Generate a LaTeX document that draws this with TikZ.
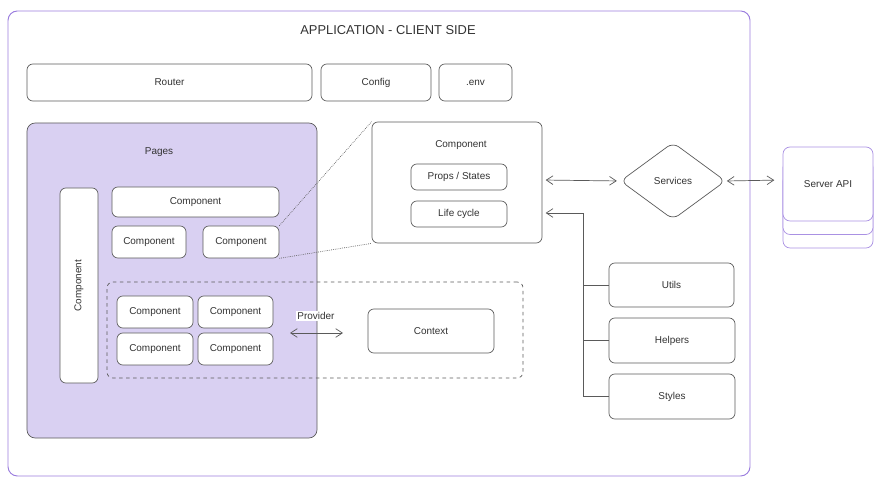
\documentclass[tikz,border=0pt]{standalone}
\usepackage{fontspec}
\setmainfont{Liberation Sans}
\usetikzlibrary{shapes.geometric,arrows.meta}

\definecolor{apppurple}{HTML}{9B7EDE}
\definecolor{pagefill}{HTML}{D9D0F2}
\definecolor{boxline}{HTML}{5A5A5A}

\tikzset{
  every node/.style={font=\fontsize{8.5}{10}\selectfont,text=black!80},
  box/.style 2 args={draw=boxline,line width=.6pt,rounded corners=5pt,fill=white,
    inner sep=0pt,minimum width=#1*0.3mm,minimum height=#2*0.3mm},
  pages/.style={box={290}{315},fill=pagefill,rounded corners=7pt},
  api/.style={box={90}{74},draw=apppurple!85,rounded corners=6pt},
  service/.style={diamond,draw=boxline,line width=.6pt,rounded corners=6pt,inner sep=0pt,
    minimum width=105*0.3mm,minimum height=77*0.3mm},
  link/.style={draw=boxline,line width=.6pt},
  >={Straight Barb[length=2mm,width=2.6mm]}
}

\begin{document}
\begin{tikzpicture}[x=0.03cm,y=-0.03cm]
      \useasboundingbox (0,0) rectangle (884,486);
      \draw [apppurple,line width=.8pt,rounded corners=8pt] (8,11) rectangle (750,476);
      \node (title) at (388,30) {\fontsize{11}{13}\selectfont APPLICATION - CLIENT SIDE};

      \node [box={285}{37}] (router) at (169.5,82.5) {Router};
      \node [box={110}{37}] (config) at (376,82.5) {Config};
      \node [box={73}{37}] (env) at (475.5,82.5) {.env};

      \node [pages] (pages) at (172,280.5) {};
      \node (pageslabel) at (159,152) {Pages};
      \node [box={195}{38},rotate=90] (compv) at (79,285.5) {Component};
      \node [box={167}{30}] (compw) at (195.5,202) {Component};
      \node [box={74}{32}] (comps1) at (149,242) {Component};
      \node [box={76}{32}] (comps2) at (241,242) {Component};

      \node [box={416}{96},fill=none,dashed] (provbox) at (315,330) {};
      \node [box={76}{32}] (g1) at (155,312) {Component};
      \node [box={75}{32}] (g2) at (235.5,312) {Component};
      \node [box={76}{32}] (g3) at (155,349) {Component};
      \node [box={75}{32}] (g4) at (235.5,349) {Component};
      \node [box={126}{44}] (context) at (431,331) {Context};
      \coordinate (provl) at (290,333);
      \coordinate (provr) at (343,333);
      \draw [link,<->] (provl) -- (provr);
      \node [fill=white,inner sep=1.5pt] (provider) at (316,316) {Provider};

      \node [box={170}{121}] (comp) at (457,182.5) {};
      \node (comptitle) at (461,145) {Component};
      \node [box={96}{26}] (props) at (459,177) {Props / States};
      \node [box={96}{26}] (life) at (459,214) {Life cycle};

      \draw [link,densely dotted] (comps2.north east) -- (comp.north west);
      \draw [link,densely dotted] (comps2.south east) -- (comp.south west);

      \node [service] (services) at (673,181) {Services};
      \node [api] (api3) at (828,211) {};
      \node [api] (api2) at (828,197.5) {};
      \node [api] (api) at (828,184) {Server API};

      \draw [link,<->,shorten <=1mm,shorten >=1mm] (comp.east |- 0,180) -- (services.west);
      \draw [link,<->,shorten <=.3mm,shorten >=2.5mm] (services.east) -- (api.west |- 0,180);

      \node [box={125}{44}] (utils) at (671.5,285) {Utils};
      \node [box={126}{45}] (helpers) at (672,340.5) {Helpers};
      \node [box={126}{45}] (styles) at (672,396.5) {Styles};

      \coordinate (bus) at (583,213);
      \draw [link,->,shorten >=1mm] (bus) -- (bus -| comp.east);
      \foreach \from in {utils,helpers,styles}
        \draw [link] (\from.west) -| (bus);
\end{tikzpicture}
\end{document}
